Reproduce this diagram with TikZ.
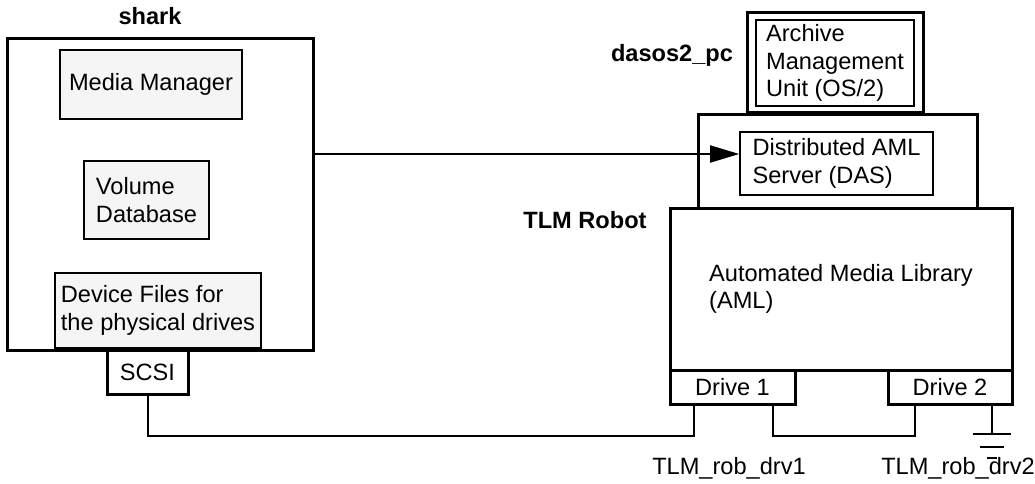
\documentclass[tikz,border=0pt]{standalone}
\usepackage{fontspec}
\setmainfont{Liberation Sans}
\usepackage{tikz}
\usetikzlibrary{arrows.meta,positioning,calc}
\definecolor{boxgray}{gray}{0.96}

\begin{document}
\begin{tikzpicture}[
    x=1pt, y=-1pt,
    every node/.style={font=\fontsize{23.6}{27.5}\selectfont},
    hostbox/.style={rectangle, draw, line width=3pt, inner sep=0pt, align=left},
    unit/.style={rectangle, draw, line width=1.6pt, inner sep=0pt, align=left},
    shaded/.style={unit, fill=boxgray},
    hostname/.style={font=\fontsize{23.6}{27.5}\selectfont\bfseries},
    wire/.style={line width=2pt},
    arr/.style={-{Triangle[length=29pt,width=17pt]}, line width=2pt}
]
    \useasboundingbox (0,0) rectangle (1035,484);

    \node[hostbox, minimum width=306pt, minimum height=311pt] (shark) at (160,194.5) {};
    \node[hostname] (sharkname) at (150,16) {shark};
    \node[shaded, minimum width=182pt, minimum height=69pt] (mm) at (151,84.5) {Media Manager};
    \node[shaded, minimum width=125pt, minimum height=78pt] (voldb) at (146.5,200) {Volume\\Database};
    \node[shaded, minimum width=206pt, minimum height=75pt] (devfiles) at (158,310.5) {Device Files for\\the physical drives};
    \node[hostbox, minimum width=81pt, minimum height=44pt] (scsi) at (147.5,372) {SCSI};

    \node[hostbox, minimum width=176pt, minimum height=100pt] (amu) at (835,63) {};
    \node[unit, minimum width=158pt, minimum height=86pt] (amutext) at (amu) {Archive\\Management\\Unit (OS/2)};
    \node[hostname] (pcname) at (672,55) {dasos2\_pc};
    \node[hostbox, minimum width=279pt, minimum height=93pt] (pc) at (837.5,161.5) {};
    \node[unit, minimum width=193pt, minimum height=63pt] (das) at (836.5,163.5) {Distributed AML\\Server (DAS)};

    \node[hostname] (robotname) at (585,220) {TLM Robot};
    \node[hostbox, minimum width=342pt, minimum height=162pt] (aml) at (841,289) {Automated Media Library\\(AML)};
    \node[hostbox, minimum width=125pt, minimum height=34pt] (drv1) at (732.5,387) {Drive 1};
    \node[hostbox, minimum width=124pt, minimum height=34pt] (drv2) at (950,387) {Drive 2};
    \node (drv1name) at (729,468) {TLM\_rob\_drv1};
    \node (drv2name) at (958,468) {TLM\_rob\_drv2};

    \coordinate (tip) at ([yshift=9.5pt]das.west);
    \draw[arr] (shark.east |- tip) -- (tip);

    \draw[wire] (scsi.south) -- ++(0,40) -| ([xshift=25pt]drv1.south west);
    \draw[wire] ([xshift=-24pt]drv1.south east) -- ++(0,30) -| ([xshift=28pt]drv2.south west);
    \draw[wire] ([xshift=-22pt]drv2.south east) -- ++(0,28) coordinate (gnd);
    \draw[wire] ([xshift=-19pt]gnd) -- ([xshift=19pt]gnd);
    \draw[wire] ([xshift=-12pt,yshift=-13pt]gnd) -- ([xshift=12pt,yshift=-13pt]gnd);
    \draw[wire] ([xshift=-5pt,yshift=-24pt]gnd) -- ([xshift=5pt,yshift=-24pt]gnd);
\end{tikzpicture}
\end{document}
